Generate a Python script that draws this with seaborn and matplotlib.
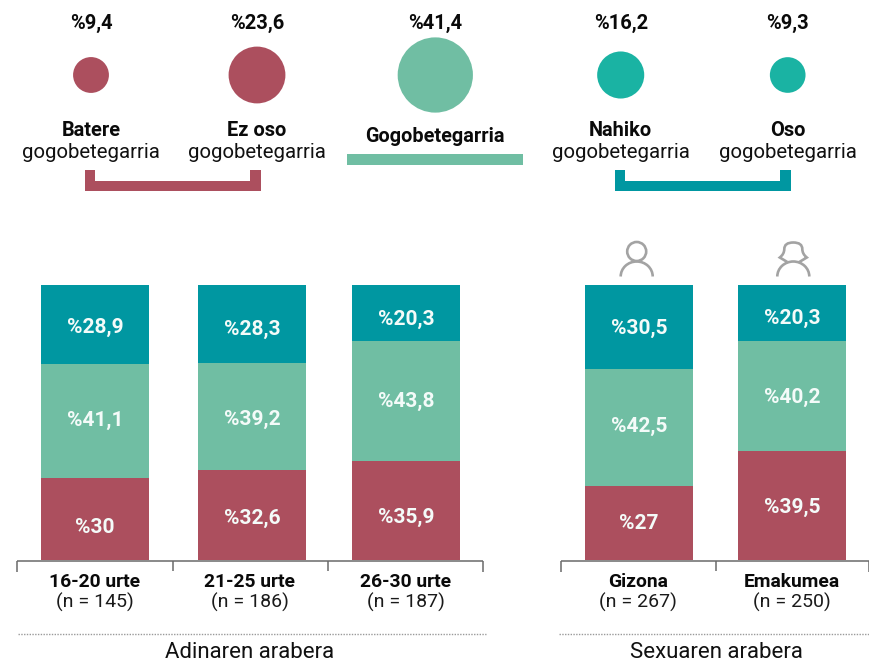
import numpy as np
import pandas as pd
import matplotlib
matplotlib.use("Agg")
import matplotlib.pyplot as plt
from matplotlib.patches import Polygon, Arc, Circle, PathPatch, Rectangle
from matplotlib.path import Path
import seaborn as sns

# ---- data ----
bubble_names = ["Batere", "Ez oso", "Gogobetegarria", "Nahiko", "Oso"]
bubble_values = [9.4, 23.6, 41.4, 16.2, 9.3]
bubble_labels = ["%9,4", "%23,6", "%41,4", "%16,2", "%9,3"]

groups = ["16-20 urte", "21-25 urte", "26-30 urte", "Gizona", "Emakumea"]
group_n = ["(n = 145)", "(n = 186)", "(n = 187)", "(n = 267)", "(n = 250)"]
low = [30, 32.6, 35.9, 27, 39.5]
mid = [41.1, 39.2, 43.8, 42.5, 40.2]
high = [28.9, 28.3, 20.3, 30.5, 20.3]
low_labels = ["%30", "%32,6", "%35,9", "%27", "%39,5"]
mid_labels = ["%41,1", "%39,2", "%43,8", "%42,5", "%40,2"]
high_labels = ["%28,9", "%28,3", "%20,3", "%30,5", "%20,3"]

# ---- style / layout ----
RED, GREEN, TEAL, BRIGHT = "#AC4F5E", "#70BEA3", "#0097A1", "#1AB3A3"
W, H = 870, 662
bar_x = [95, 252, 406, 639, 792]
bar_w = 108
bar_top, bar_base = 285, 560
label_x = [95, 250, 406, 638, 792]
bubble_x = [91, 257, 435.3, 620.7, 787.7]
bubble_colors = [RED, RED, GREEN, BRIGHT, BRIGHT]
y_low = [527.5, 518.5, 517.5, 523.5, 507.5]
y_mid = [420.5, 419.5, 401.5, 426.5, 397.5]
y_high = [327.5, 329.5, 319.5, 328.5, 318.5]

sns.set_theme(style="white")
plt.rcParams["font.family"] = ["Roboto", "DejaVu Sans"]

fig = plt.figure(figsize=(W / 100, H / 100), dpi=100)

# stacked bars, in percent
ax = fig.add_axes([0, (H - bar_base) / H, 1, (bar_base - bar_top) / H])
df = pd.DataFrame({"x": bar_x, "low": low, "mid": mid, "high": high})
df["c2"] = df["low"] + df["mid"]
df["c3"] = df["c2"] + df["high"]
w = bar_w / (min(np.diff(bar_x)))
for col, color in [("c3", TEAL), ("c2", GREEN), ("low", RED)]:
    sns.barplot(data=df, x="x", y=col, native_scale=True, width=w, color=color,
                saturation=1, linewidth=0, ax=ax, errorbar=None)
ax.set_xlim(0, W)
ax.set_ylim(0, 100)
ax.axis("off")

# overlay in pixel space
ov = fig.add_axes([0, 0, 1, 1], zorder=5)
ov.set_xlim(0, W)
ov.set_ylim(H, 0)
ov.axis("off")
ov.patch.set_alpha(0)

# bubbles: area proportional to value
bd = pd.DataFrame({"x": bubble_x, "y": [75] * 5, "v": bubble_values, "n": bubble_names})
k = 70.9
sns.scatterplot(data=bd, x="x", y="y", size="v", hue="n", palette=bubble_colors,
                sizes=(k * min(bubble_values), k * max(bubble_values)),
                size_norm=(min(bubble_values), max(bubble_values)),
                linewidth=0, legend=False, ax=ov, clip_on=False)
ov.set_xlim(0, W)
ov.set_ylim(H, 0)
ov.axis("off")

INK = "#0A0A0A"
for x, s in zip(bubble_x, bubble_labels):
    ov.text(x, 23, s, ha="center", va="center", fontsize=14.5, fontweight="bold", color=INK)

for x, name in [(91, "Batere"), (257, "Ez oso"), (620.7, "Nahiko"), (787.7, "Oso")]:
    ov.text(x, 130.5, name, ha="center", va="center", fontsize=14.4, fontweight="bold", color=INK)
    ov.text(x, 153, "gogobetegarria", ha="center", va="center", fontsize=14.7, fontweight="normal", color="#111111")
ov.text(435, 136, "Gogobetegarria", ha="center", va="center", fontsize=14.3, fontweight="bold", color=INK)


def bracket(x0, x1, color):
    t, yt, yb = 10.5, 170, 191
    pts = [(x0, yt), (x0 + t, yt), (x0 + t, yb - t), (x1 - t, yb - t), (x1 - t, yt),
           (x1, yt), (x1, yb), (x0, yb)]
    ov.add_patch(Polygon(pts, closed=True, fc=color, ec="none"))


bracket(85, 261, RED)
bracket(615, 791, TEAL)
ov.add_patch(Rectangle((347, 153.5), 176, 11, fc=GREEN, ec="none"))

# labels in bars
for ys, labs in [(y_low, low_labels), (y_mid, mid_labels), (y_high, high_labels)]:
    for x, y, s in zip(bar_x, ys, labs):
        ov.text(x, y, s, ha="center", va="center", fontsize=15, fontweight="bold", color="#F4FBF9")

# axis brackets
GR = "#6A6A6A"
for xs in ([17, 173, 328, 483], [561, 716, 869]):
    ov.plot([xs[0], xs[-1]], [560.5, 560.5], color=GR, lw=1.1, solid_capstyle="butt")
    for i, x in enumerate(xs):
        end = 572 if i in (0, len(xs) - 1) else 571
        ov.plot([x, x], [560.5, end], color=GR, lw=1.1, solid_capstyle="butt")

for x, g, n in zip(label_x, groups, group_n):
    ov.text(x, 582, g, ha="center", va="center", fontsize=13.9, fontweight="bold", color=INK)
    ov.text(x, 602, n, ha="center", va="center", fontsize=14, color="#1A1A1A")

# dotted separators and section titles
for x0, x1, xc, s in [(18, 486, 250, "Adinaren arabera"), (559, 870, 716, "Sexuaren arabera")]:
    ov.plot([x0, x1], [634, 634], color="#9A9A9A", lw=1, linestyle=(0, (1, 1)))
    ov.text(xc, 652, s, ha="center", va="center", fontsize=16, fontweight="normal", color="#111111")

# person icons
IC = "#A3A3A3"
LW = 1.9
ov.add_patch(Circle((636.7, 251.5), 9.5, fc="none", ec=IC, lw=LW))
ov.add_patch(Arc((636.7, 276.5), 32, 30, theta1=180, theta2=360, ec=IC, lw=LW))
ov.add_patch(Arc((793.3, 276.5), 32, 30, theta1=180, theta2=360, ec=IC, lw=LW))
cx = 793.3
verts = [(cx - 6, 262), (cx - 13.5, 257.5),
         (cx - 9, 254), (cx - 9, 249), (cx - 9, 242.5), (cx, 242.5),
         (cx + 9, 242.5), (cx + 9, 249), (cx + 9, 254), (cx + 13.5, 257.5),
         (cx + 6, 262)]
codes = [Path.MOVETO, Path.LINETO,
         Path.CURVE3, Path.CURVE3, Path.CURVE3, Path.CURVE3,
         Path.CURVE3, Path.CURVE3, Path.CURVE3, Path.CURVE3,
         Path.LINETO]
ov.add_patch(PathPatch(Path(verts, codes), fc="none", ec=IC, lw=LW))

fig.savefig("out.png", dpi=100, facecolor="white")
